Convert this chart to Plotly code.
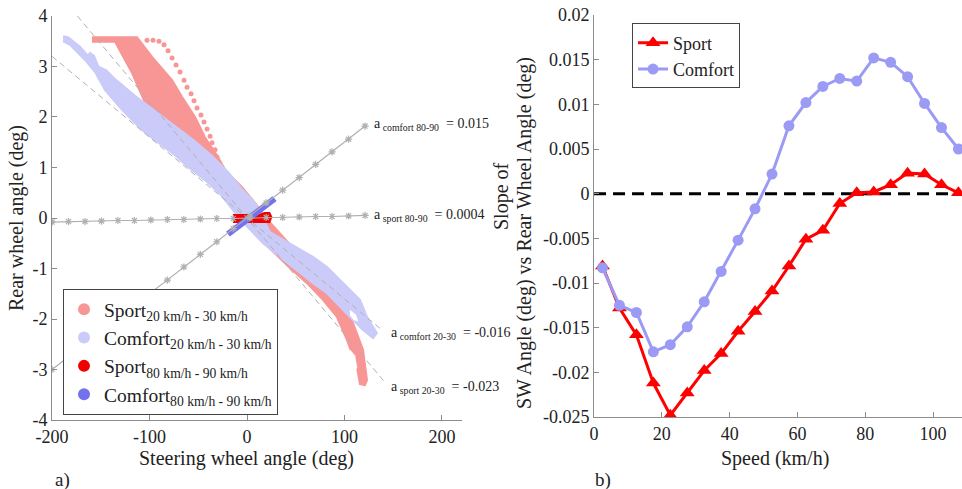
import plotly.graph_objects as go

# ---------------- data: panel a ----------------
# outline of the Sport 20-30 km/h scatter cloud (SW angle deg, RW angle deg)
sport2030_x = [-159.0, -112.8, -97.4, -76.9, -66.7, -53.3, -43.1, -29.7, -22.6, -5.1, 8.2, 18.5, 95.4, 108.7,
               119.0, 123.1, 121.0, 115.9, 112.8, 102.6, 92.3, 77.9, 61.5, 44.1, 23.6, 3.1, -7.2, -22.6, -48.2,
               -79.0, -98.5, -104.6, -117.9, -135.4, -159.0]
sport2030_y = [3.58, 3.58, 3.19, 2.73, 2.40, 2.00, 1.60, 1.21, 0.95, 0.61, 0.30, 0.02, -1.62, -2.08,
               -2.61, -3.21, -3.31, -3.29, -2.95, -2.42, -1.96, -1.62, -1.29, -0.99, -0.61, -0.20, 0.12, 0.55, 1.15,
               1.74, 2.08, 2.28, 2.87, 3.49, 3.49]
sport2030_hole_x = [105.6, 110.8, 112.8, 109.7, 105.6]
sport2030_hole_y = [-2.61, -2.73, -2.97, -3.03, -2.85]
# separate dotted trail of the Sport 20-30 cloud
sport_trail_x = [-102.6, -96.4, -90.3, -85.1, -81.0, -76.9, -72.8, -68.7, -64.6, -61.5, -57.4, -54.4, -51.3,
                 -47.2, -44.1, -41.0, -37.9, -35.9, -32.8, -30.8, -28.7, -25.6]
sport_trail_y = [3.52, 3.52, 3.50, 3.43, 3.31, 3.17, 3.03, 2.89, 2.73, 2.59, 2.46, 2.32, 2.18,
                 2.04, 1.90, 1.76, 1.62, 1.49, 1.35, 1.21, 1.11, 1.01]
# outline of the Comfort 20-30 km/h scatter cloud
comfort2030_x = [-188.7, -183.6, -171.3, -163.1, -161.0, -156.9, -152.8, -149.7, -144.6, -135.4, -114.9, -94.4,
                 -73.8, -53.3, -35.9, -19.5, -5.1, 8.2, 23.6, 44.1, 67.7, 82.1, 102.6, 115.9, 123.1, 133.3,
                 129.2, 119.0, 108.7, 95.4, 82.1, 67.7, 51.3, 33.8, 16.4, 3.1, -7.2, -26.7, -43.1, -60.5, -76.9,
                 -94.4, -107.7, -128.2, -145.6, -155.9, -166.2, -181.5, -188.7]
comfort2030_y = [3.60, 3.58, 3.39, 3.21, 3.27, 3.21, 3.01, 2.97, 2.93, 2.75, 2.42, 2.12,
                 1.82, 1.52, 1.23, 0.91, 0.57, 0.30, -0.28, -0.50, -0.77, -0.97, -1.37, -1.62, -1.96, -2.28,
                 -2.38, -2.22, -2.02, -1.76, -1.49, -1.29, -1.03, -0.77, -0.50, -0.24, -0.02, 0.46, 0.75, 1.01, 1.29,
                 1.54, 1.74, 2.14, 2.53, 2.89, 3.13, 3.43, 3.50]
comfort2030_hole_x = [105.6, 111.8, 113.8, 109.7, 105.6]
comfort2030_hole_y = [-1.82, -1.92, -2.04, -2.02, -1.92]
# outline of the Sport 80-90 km/h cloud
sport8090_x = [-14.4, 13, 18, 23, 25, 23, -14.4]
sport8090_y = [0.06, 0.06, 0.10, 0.10, 0.02, -0.08, -0.08]
# outline of the Comfort 80-90 km/h cloud
comfort8090_x = [-20.7, -17.4, 28.9, 25.6]
comfort8090_y = [-0.26, -0.34, 0.34, 0.42]

# fitted lines
fit_x = [-200, -183.1, -166.2, -149.3, -132.4, -115.5, -98.6, -81.7, -64.8, -47.9, -31, -14.1, 2.8, 19.7,
         36.6, 53.5, 70.4, 87.3, 104.2, 121.1]
fit_comfort8090_y = [-3.0, -2.75, -2.49, -2.24, -1.99, -1.73, -1.48, -1.23, -0.97, -0.72, -0.47, -0.21, 0.04,
                     0.30, 0.55, 0.80, 1.06, 1.31, 1.56, 1.82]
fit_sport8090_y = [-0.08, -0.07, -0.07, -0.06, -0.05, -0.05, -0.04, -0.03, -0.03, -0.02, -0.01, -0.01, 0.00,
                   0.01, 0.01, 0.02, 0.03, 0.03, 0.04, 0.05]
fit_sport2030_x = [-174, 140]
fit_sport2030_y = [4.0, -3.22]
fit_comfort2030_x = [-200, 138]
fit_comfort2030_y = [3.2, -2.21]

# ---------------- data: panel b ----------------
speed = [2.5, 7.5, 12.5, 17.5, 22.5, 27.5, 32.5, 37.5, 42.5, 47.5, 52.5, 57.5, 62.5, 67.5, 72.5, 77.5,
         82.5, 87.5, 92.5, 97.5, 102.5, 107.5]
slope_sport = [-0.0081, -0.0128, -0.0158, -0.0212, -0.0248, -0.0223, -0.0198, -0.0179, -0.0154, -0.0132,
               -0.0109, -0.0081, -0.0051, -0.0041, -0.0011, 0.0001, 0.0002, 0.0010, 0.0023, 0.0022, 0.0010, 0.0001]
slope_comfort = [-0.0083, -0.0125, -0.0133, -0.0177, -0.0169, -0.0149, -0.0121, -0.0087, -0.0052, -0.0017,
                 0.0022, 0.0076, 0.0102, 0.0120, 0.0129, 0.0126, 0.0152, 0.0147, 0.0131, 0.0101, 0.0074, 0.0050]

a_ticks = [-200, -100, 0, 100, 200]
a_yticks = [-4, -3, -2, -1, 0, 1, 2, 3, 4]
b_xticks = [0, 20, 40, 60, 80, 100]
b_yticks = [-0.025, -0.02, -0.015, -0.01, -0.005, 0, 0.005, 0.01, 0.015, 0.02]
b_yticktext = ["-0.025", "-0.02", "-0.015", "-0.01", "-0.005", "0", "0.005", "0.01", "0.015", "0.02"]

FONT = "Liberation Serif, Times New Roman, serif"
C_SPORT_L = "#f89696"
C_COMF_L = "#cbcbf9"
C_SPORT_H = "#f00000"
C_COMF_H = "#7272ee"
GRAY = "#b0b0b0"

fig = go.Figure()

def poly(x, y, color, lw=2):
    fig.add_trace(go.Scatter(x=x, y=y, fill="toself", fillcolor=color, mode="lines",
                             line=dict(color=color, width=lw), showlegend=False, hoverinfo="skip",
                             xaxis="x", yaxis="y"))

poly(sport2030_x, sport2030_y, C_SPORT_L)
poly(sport2030_hole_x, sport2030_hole_y, "white", 0.5)
fig.add_trace(go.Scatter(x=sport_trail_x, y=sport_trail_y, mode="markers",
                         marker=dict(color=C_SPORT_L, size=5), showlegend=False, hoverinfo="skip"))
poly(comfort2030_x, comfort2030_y, C_COMF_L)
poly(comfort2030_hole_x, comfort2030_hole_y, "white", 0.5)
poly(sport8090_x, sport8090_y, C_SPORT_H)
poly(comfort8090_x, comfort8090_y, C_COMF_H)

for xs, ys in [(fit_sport2030_x, fit_sport2030_y), (fit_comfort2030_x, fit_comfort2030_y)]:
    fig.add_trace(go.Scatter(x=xs, y=ys, mode="lines", line=dict(color=GRAY, width=1, dash="6px,4px"),
                             showlegend=False, hoverinfo="skip"))
for ys in [fit_comfort8090_y, fit_sport8090_y]:
    fig.add_trace(go.Scatter(x=fit_x, y=ys, mode="lines+markers", line=dict(color=GRAY, width=1.2),
                             marker=dict(symbol="asterisk-open", size=6, line=dict(color="#a0a0a0", width=1.2)),
                             showlegend=False, hoverinfo="skip"))

# legend-only entries for panel a
SUB = "<sub>{}</sub>"
for name, col in [("Sport" + SUB.format("20 km/h - 30 km/h"), C_SPORT_L),
                  ("Comfort" + SUB.format("20 km/h - 30 km/h"), C_COMF_L),
                  ("Sport" + SUB.format("80 km/h - 90 km/h"), C_SPORT_H),
                  ("Comfort" + SUB.format("80 km/h - 90 km/h"), C_COMF_H)]:
    fig.add_trace(go.Scatter(x=[None], y=[None], mode="markers", marker=dict(color=col, size=11),
                             name=name, legend="legend"))

# panel b
fig.add_trace(go.Scatter(x=speed, y=slope_sport, mode="lines+markers", name="Sport",
                         line=dict(color="#ff0000", width=3),
                         marker=dict(symbol="triangle-up", size=13, color="#ff0000"),
                         xaxis="x2", yaxis="y2", legend="legend2"))
fig.add_trace(go.Scatter(x=speed, y=slope_comfort, mode="lines+markers", name="Comfort",
                         line=dict(color="#9b9bf5", width=3),
                         marker=dict(symbol="circle", size=11, color="#9b9bf5"),
                         xaxis="x2", yaxis="y2", legend="legend2"))

fig.add_shape(type="line", xref="x2", yref="y2", x0=0, x1=108.55, y0=0, y1=0,
              line=dict(color="black", width=3, dash="12px,7px"), layer="below")

tickfont = dict(family=FONT, size=18, color="#222")
axis_common = dict(showline=True, linecolor="#8c8c8c", linewidth=1, ticks="inside", ticklen=5,
                   tickcolor="#8c8c8c", showgrid=False, zeroline=False, tickfont=tickfont,
                   automargin=False)

fig.update_layout(
    width=962, height=489, margin=dict(l=0, r=0, t=0, b=0, autoexpand=False),
    paper_bgcolor="white", plot_bgcolor="white",
    font=dict(family=FONT, color="#222"),
    xaxis=dict(range=[-200, 220.5], domain=[0.0541, 0.4802], anchor="y",
               tickvals=a_ticks, ticktext=[str(v) for v in a_ticks], **axis_common),
    yaxis=dict(range=[-4, 4], domain=[0.1411, 0.9673], anchor="x",
               tickvals=a_yticks, ticktext=[str(v) for v in a_yticks], **axis_common),
    xaxis2=dict(range=[0, 108.55], domain=[0.6175, 1.0], anchor="y2",
                tickvals=b_xticks, ticktext=[str(v) for v in b_xticks], **axis_common),
    yaxis2=dict(range=[-0.025, 0.02], domain=[0.1472, 0.9693], anchor="x2",
                tickvals=b_yticks, ticktext=b_yticktext, **axis_common),
    legend=dict(x=0.0655, y=0.409, xanchor="left", yanchor="top", bordercolor="#444", borderwidth=1,
                bgcolor="white", font=dict(family=FONT, size=19.5, color="#222"), itemsizing="constant"),
    legend2=dict(x=0.657, y=0.952, xanchor="left", yanchor="top", bordercolor="#444", borderwidth=1,
                 bgcolor="white", font=dict(family=FONT, size=18, color="#222")),
    showlegend=True,
)

ann = []
def txt(x, y, t, size=20, angle=0, xref="paper", yref="paper", xanchor="center"):
    ann.append(dict(x=x, y=y, xref=xref, yref=yref, text=t, showarrow=False, textangle=angle,
                    xanchor=xanchor, yanchor="middle", font=dict(family=FONT, size=size, color="#222")))

txt(246 / 962, (489 - 458) / 489, "Steering wheel angle (deg)")
txt(775 / 962, (489 - 458) / 489, "Speed (km/h)")
txt(16 / 962, (489 - 218) / 489, "Rear wheel angle (deg)", angle=-90)
txt(501 / 962, (489 - 196) / 489, "Slope of", angle=-90)
txt(525 / 962, (489 - 233) / 489, "SW Angle (deg) vs Rear Wheel Angle (deg)", angle=-90)
txt(62 / 962, (489 - 480) / 489, "a)", size=19)
txt(603 / 962, (489 - 480) / 489, "b)", size=19)

txt(128, 1.86, "a<sub> comfort 80-90</sub>  = 0.015", size=14, xref="x", yref="y", xanchor="left")
txt(128, 0.04, "a<sub> sport 80-90</sub>  = 0.0004", size=14, xref="x", yref="y", xanchor="left")
txt(146, -2.28, "a<sub> comfort 20-30</sub>  = -0.016", size=14, xref="x", yref="y", xanchor="left")
txt(146, -3.36, "a<sub> sport 20-30</sub>  = -0.023", size=14, xref="x", yref="y", xanchor="left")

fig.update_layout(annotations=ann)
fig.write_html("out.html", config={"displayModeBar": False},
               post_script="document.body.style.margin='0px';document.body.style.padding='0px';")
